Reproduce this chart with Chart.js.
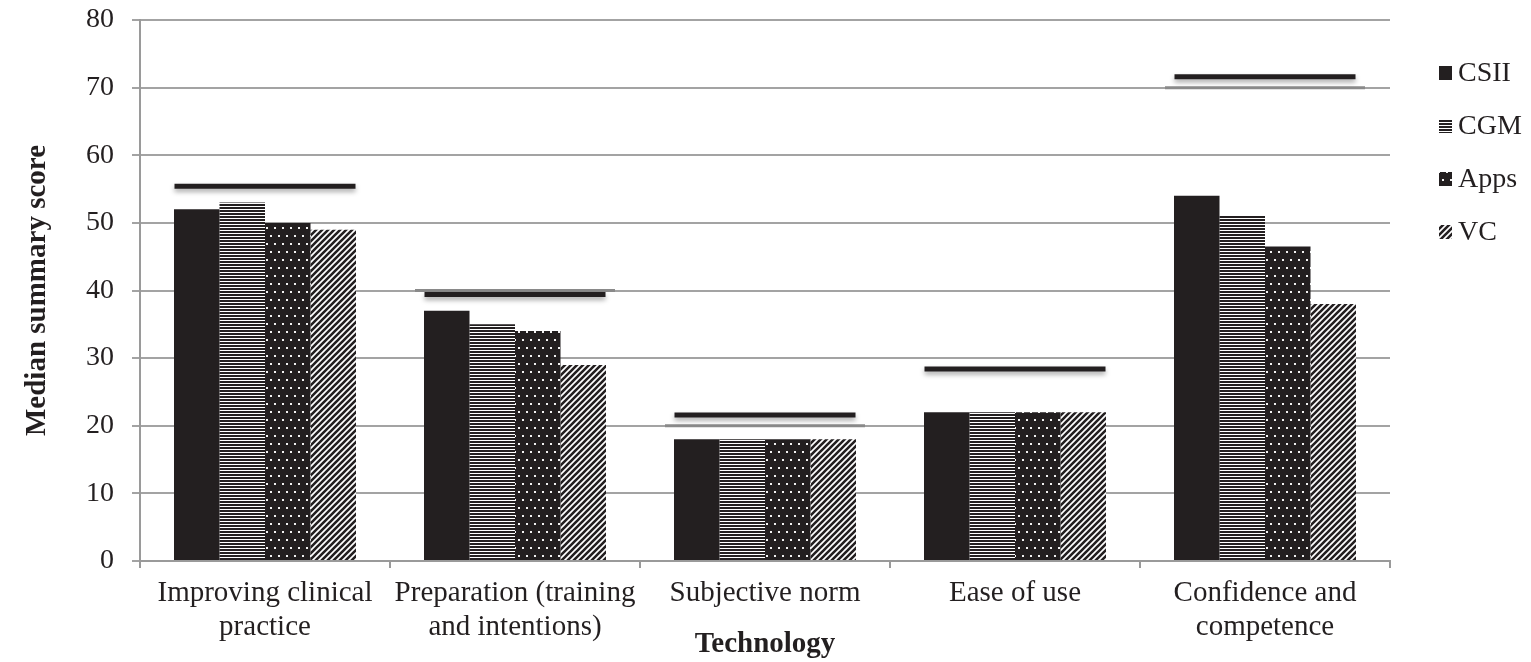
<!DOCTYPE html>
<html>
<head>
<meta charset="utf-8">
<script src="https://cdn.jsdelivr.net/npm/chart.js@4.4.1/dist/chart.umd.min.js"></script>
<style>
  html, body { margin: 0; padding: 0; background: #ffffff; }
  #wrap { width: 1531px; height: 662px; position: relative; }
</style>
</head>
<body>
<div id="wrap"><canvas id="chart"></canvas></div>
<script>
// Categories (multi-line labels) and the four technology series
const categories = [
  ['Improving clinical', 'practice'],
  ['Preparation (training', 'and intentions)'],
  'Subjective norm',
  'Ease of use',
  ['Confidence and', 'competence']
];
const seriesNames = ['CSII', 'CGM', 'Apps', 'VC'];
const csiiValues = [52, 37, 18, 22, 54];
const cgmValues  = [53, 35, 18, 22, 51];
const appsValues = [50, 34, 18, 22, 46.5];
const vcValues   = [49, 29, 18, 22, 38];

// Dark level bars drawn above each group, and grey reference bars on gridlines
const markerLevels    = [55.4, 39.4, 21.6, 28.4, 71.6];
const referenceLevels = [null, 40, 20, null, 70];

// Y axis range
const yMin = 0, yMax = 80, yStep = 10;

const INK = '#231f20';
const SERIF = "'Liberation Serif', 'Times New Roman', serif";

// ---- fill patterns ----
function tile(w, h, paint) {
  const c = document.createElement('canvas');
  c.width = w; c.height = h;
  const g = c.getContext('2d');
  paint(g, w, h);
  return g.createPattern(c, 'repeat');
}
const solidFill = INK;
const hStripeFill = tile(4, 3, (g, w) => {
  g.fillStyle = '#ffffff'; g.fillRect(0, 0, w, 3);
  g.fillStyle = INK; g.fillRect(0, 0, w, 2);
});
const dotFill = tile(8, 16, (g) => {
  g.fillStyle = INK; g.fillRect(0, 0, 8, 16);
  g.fillStyle = '#f2f2f2';
  g.fillRect(2, 3, 2, 2);
  g.fillRect(6, 11, 2, 2);
});
const diagFill = tile(6, 6, (g) => {
  g.fillStyle = '#ffffff'; g.fillRect(0, 0, 6, 6);
  g.strokeStyle = INK; g.lineWidth = 2.6;
  g.beginPath();
  g.moveTo(-3, 3); g.lineTo(3, -3);
  g.moveTo(0, 6); g.lineTo(6, 0);
  g.moveTo(3, 9); g.lineTo(9, 3);
  g.stroke();
});

const seriesValues = [csiiValues, cgmValues, appsValues, vcValues];
const seriesFills = [solidFill, hStripeFill, dotFill, diagFill];

// Level bars over the groups
const levelBars = {
  id: 'levelBars',
  afterDatasetsDraw(chart) {
    const { ctx, scales: { x, y } } = chart;
    const cw = x.width / categories.length;
    ctx.save();
    referenceLevels.forEach((v, i) => {
      if (v === null) return;
      const cx = x.getPixelForValue(i);
      const py = y.getPixelForValue(v);
      ctx.strokeStyle = '#8a8a8a';
      ctx.lineWidth = 3;
      ctx.beginPath();
      ctx.moveTo(cx - 0.4 * cw, py);
      ctx.lineTo(cx + 0.4 * cw, py);
      ctx.stroke();
    });
    markerLevels.forEach((v, i) => {
      const cx = x.getPixelForValue(i);
      const py = y.getPixelForValue(v);
      ctx.shadowColor = 'rgba(0,0,0,0.35)';
      ctx.shadowBlur = 5;
      ctx.shadowOffsetY = 3;
      ctx.strokeStyle = INK;
      ctx.lineWidth = 5;
      ctx.beginPath();
      ctx.moveTo(cx - 0.362 * cw, py);
      ctx.lineTo(cx + 0.362 * cw, py);
      ctx.stroke();
    });
    ctx.restore();
  }
};

// Legend stacked at the right of the plot
const sideLegend = {
  id: 'sideLegend',
  afterDraw(chart) {
    const ctx = chart.ctx;
    const x0 = chart.chartArea.right + 49;
    ctx.save();
    chart.data.datasets.forEach((ds, i) => {
      const cy = 73 + i * 53;
      ctx.fillStyle = ds.backgroundColor;
      ctx.fillRect(x0, cy - 7, 13, 14);
      ctx.fillStyle = INK;
      ctx.font = '28px ' + SERIF;
      ctx.textAlign = 'left';
      ctx.textBaseline = 'middle';
      ctx.fillText(ds.label, x0 + 19, cy + 1);
    });
    ctx.restore();
  }
};

new Chart(document.getElementById('chart'), {
  type: 'bar',
  data: {
    labels: categories,
    datasets: seriesNames.map((name, i) => ({
      label: name,
      data: seriesValues[i],
      backgroundColor: seriesFills[i],
      borderWidth: 0,
      categoryPercentage: 0.728,
      barPercentage: 1
    }))
  },
  options: {
    responsive: true,
    maintainAspectRatio: false,
    animation: false,
    layout: { padding: { top: 20, right: 141, bottom: 0, left: 0 } },
    plugins: {
      legend: { display: false },
      tooltip: { enabled: false }
    },
    scales: {
      x: {
        grid: {
          offset: true,
          drawOnChartArea: false,
          drawTicks: true,
          tickLength: 7,
          color: '#9a9a9a',
          lineWidth: 2
        },
        border: { color: '#9a9a9a', width: 2 },
        ticks: {
          color: INK,
          padding: 8,
          maxRotation: 0,
          autoSkip: false,
          font: { family: SERIF, size: 29, lineHeight: 1.17 }
        },
        title: {
          display: true,
          text: 'Technology',
          color: INK,
          padding: { top: 0, bottom: 0 },
          font: { family: SERIF, size: 29, weight: 'bold', lineHeight: 1.2 }
        },
        afterFit(scale) { scale.height = 101; }
      },
      y: {
        min: yMin,
        max: yMax,
        ticks: {
          stepSize: yStep,
          color: INK,
          padding: 18,
          font: { family: SERIF, size: 28 }
        },
        grid: {
          color: '#a3a3a3',
          lineWidth: 2,
          tickLength: 8
        },
        border: { color: '#9a9a9a', width: 2 },
        title: {
          display: true,
          text: 'Median summary score',
          color: INK,
          padding: { top: 20, bottom: 0 },
          font: { family: SERIF, size: 29, weight: 'bold', lineHeight: 1.2 }
        },
        afterFit(scale) {
          scale.width = 140;
          scale.paddingTop = 0;
          scale.paddingBottom = 0;
        }
      }
    }
  },
  plugins: [levelBars, sideLegend]
});
</script>
</body>
</html>
